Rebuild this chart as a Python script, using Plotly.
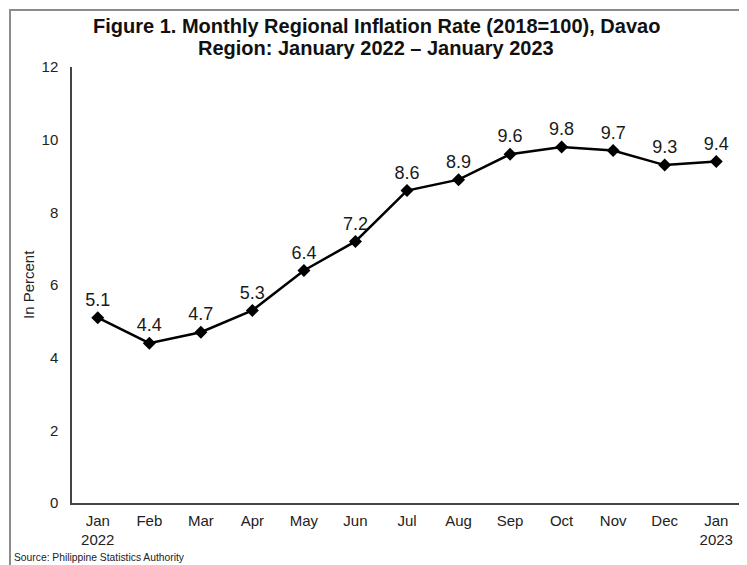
import plotly.graph_objects as go

months = ["Jan<br>2022", "Feb", "Mar", "Apr", "May", "Jun", "Jul", "Aug", "Sep", "Oct", "Nov", "Dec", "Jan<br>2023"]
rates = [5.1, 4.4, 4.7, 5.3, 6.4, 7.2, 8.6, 8.9, 9.6, 9.8, 9.7, 9.3, 9.4]
labels = [f"{v:.1f}" for v in rates]
y_ticks = [0, 2, 4, 6, 8, 10, 12]
title_lines = ["Figure 1. Monthly Regional Inflation Rate (2018=100), Davao",
               "Region: January 2022 – January 2023"]
y_title = "In Percent"
source_text = "Source: Philippine Statistics Authority"

FONT = "Liberation Sans, Arial, sans-serif"
OFF = 8  # page body margin
W, H = 747 - OFF, 565 - OFF
L, T = 72 - OFF, 67 - OFF
R = W - (742 - OFF)
B = H - (503 - OFF)
PW, PH = W - L - R, H - T - B


def px_x(x):  # page pixel -> paper x
    return (x - OFF - L) / PW


def px_y(y):  # page pixel -> paper y
    return (H - B - (y - OFF)) / PH


fig = go.Figure()
fig.add_trace(go.Scatter(
    x=list(range(len(months))), y=rates,
    mode="lines+markers+text",
    text=labels, textposition="top center",
    textfont=dict(family=FONT, size=18, color="#1a1a1a"),
    line=dict(color="black", width=2.5),
    marker=dict(symbol="diamond", size=10, color="black"),
    cliponaxis=False,
    showlegend=False,
))

fig.update_layout(
    width=W, height=H,
    margin=dict(l=L, r=R, t=T, b=B, autoexpand=False),
    paper_bgcolor="white", plot_bgcolor="white",
    xaxis=dict(
        tickmode="array", tickvals=list(range(len(months))), ticktext=months,
        range=[-0.5, len(months) - 0.5],
        showline=True, linecolor="#444444", linewidth=1.5,
        showgrid=False, zeroline=False, ticks="", automargin=False,
        tickfont=dict(family=FONT, size=15, color="#222222"),
        ticklabelstandoff=3,
    ),
    yaxis=dict(
        range=[0, 12], tickvals=y_ticks,
        showline=True, linecolor="#444444", linewidth=1.5,
        showgrid=False, zeroline=False, ticks="", automargin=False,
        tickfont=dict(family=FONT, size=15, color="#222222"),
        ticklabelstandoff=9,
    ),
    font=dict(family=FONT),
)

for line, ypix in zip(title_lines, [26, 48]):
    fig.add_annotation(
        text=f"<b>{line}</b>", xref="paper", yref="paper",
        x=px_x(376), y=px_y(ypix), xanchor="center", yanchor="middle",
        showarrow=False, font=dict(family=FONT, size=20, color="#111111"),
    )

fig.add_annotation(
    text=y_title, xref="paper", yref="paper",
    x=px_x(28), y=px_y(285), xanchor="center", yanchor="middle",
    textangle=-90, showarrow=False,
    font=dict(family=FONT, size=15, color="#222222"),
)

fig.add_annotation(
    text=source_text,
    xref="paper", yref="paper", x=px_x(12), y=px_y(557),
    xanchor="left", yanchor="middle", showarrow=False,
    font=dict(family=FONT, size=10.3, color="#222222"),
)

# image frame (top and left edges visible)
fig.add_shape(type="rect", xref="paper", yref="paper", layer="above",
              x0=px_x(10), x1=px_x(790), y0=px_y(610), y1=px_y(10),
              fillcolor="rgba(0,0,0,0)",
              line=dict(color="#8c8c8c", width=2))

fig.write_html("out.html")
